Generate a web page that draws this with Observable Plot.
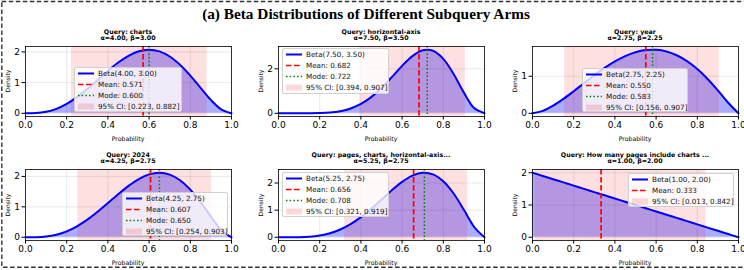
<!DOCTYPE html>
<html>
<head>
<meta charset="utf-8">
<script src="https://cdn.jsdelivr.net/npm/d3@7"></script>
<script src="https://cdn.jsdelivr.net/npm/@observablehq/plot@0.6"></script>
<style>
  html, body { margin: 0; padding: 0; background: white; }
  #fig { position: relative; width: 744px; height: 270px; overflow: hidden; background: white; font-family: "DejaVu Sans", sans-serif; }
  .abs { position: absolute; }
  .ptitle { position: absolute; font-weight: bold; font-size: 6.3px; white-space: nowrap; transform: translateX(-50%); line-height: 6px; color: #000; text-align: center; }
  .xlab { position: absolute; font-size: 6.2px; transform: translateX(-50%); white-space: nowrap; line-height: 7px; }
  .ylab { position: absolute; font-size: 6px; transform: translate(-50%, -50%) rotate(-90deg); white-space: nowrap; line-height: 7px; }
  .legend { position: absolute; background: rgba(255,255,255,0.8); border: 0.8px solid #d0d0d0; border-radius: 2px; box-sizing: border-box; padding: 0.5px 3px; }
  .lrow { display: flex; align-items: center; height: 10.9px; font-size: 7.2px; white-space: nowrap; color: #111; }
  .lrow svg { flex: none; margin-right: 4px; }
</style>
</head>
<body>
<div id="fig"></div>
<script>
// ---------- data ----------
const titles = ["Query: charts", "Query: horizontal-axis", "Query: year", "Query: 2024", "Query: pages, charts, horizontal-axis...", "Query: How many pages include charts ..."];
const alphas = [4.00, 7.50, 2.75, 4.25, 5.25, 1.00];
const betas  = [3.00, 3.50, 2.25, 2.75, 2.75, 2.00];
const means  = [0.571, 0.682, 0.550, 0.607, 0.656, 0.333];
const modes  = [0.600, 0.722, 0.583, 0.650, 0.708, null];
const ciLow  = [0.223, 0.394, 0.156, 0.254, 0.321, 0.013];
const ciHigh = [0.882, 0.907, 0.907, 0.903, 0.919, 0.842];

const xGrid = [0, 0.05, 0.1, 0.15, 0.2, 0.25, 0.3, 0.35, 0.4, 0.45, 0.5, 0.55, 0.6, 0.65, 0.7, 0.75, 0.8, 0.85, 0.9, 0.95, 1];
const densCharts   = [0, 0.0068, 0.0486, 0.1463, 0.3072, 0.5273, 0.7938, 1.0869, 1.3824, 1.6539, 1.875, 2.0215, 2.0736, 2.0185, 1.8522, 1.582, 1.2288, 0.8291, 0.4374, 0.1286, 0];
const densHorizAxis = [0, 0, 0.0001, 0.0017, 0.0096, 0.0347, 0.0955, 0.2161, 0.4214, 0.7294, 1.1396, 1.627, 2.1336, 2.5713, 2.8315, 2.8107, 2.4474, 1.7681, 0.9303, 0.2337, 0];
const densYear     = [0, 0.0653, 0.2053, 0.3886, 0.596, 0.8125, 1.0254, 1.2242, 1.3991, 1.5422, 1.6463, 1.705, 1.7136, 1.6683, 1.5665, 1.4072, 1.192, 0.9248, 0.6159, 0.2847, 0];
const dens2024     = [0, 0.0029, 0.0253, 0.0854, 0.1956, 0.3608, 0.5784, 0.8384, 1.1249, 1.4165, 1.6886, 1.9139, 2.0664, 2.1222, 2.0613, 1.875, 1.565, 1.1519, 0.6823, 0.2418, 0];
const densPages    = [0, 0.0002, 0.0042, 0.0211, 0.0645, 0.1486, 0.2858, 0.4834, 0.741, 1.0499, 1.3906, 1.7338, 2.0421, 2.2721, 2.377, 2.3163, 2.0622, 1.6128, 1.0114, 0.3783, 0];
const densHowMany  = [2, 1.9, 1.8, 1.7, 1.6, 1.5, 1.4, 1.3, 1.2, 1.1, 1.0, 0.9, 0.8, 0.7, 0.6, 0.5, 0.4, 0.3, 0.2, 0.1, 0];
const densities = [densCharts, densHorizAxis, densYear, dens2024, densPages, densHowMany];

const xTicks = [0, 0.2, 0.4, 0.6, 0.8, 1.0];
const yTicksList = [[0, 1, 2], [0, 2], [0, 1], [0, 1, 2], [0, 1, 2], [0, 1, 2]];
const yDomains = [[-0.104, 2.177], [-0.143, 3.004], [-0.086, 1.802], [-0.106, 2.228], [-0.119, 2.498], [-0.1, 2.1]];

// ---------- layout ----------
const colLeft = [25, 278, 532];
const plotW = 206;
const rowTop = [46, 169];
const rowH = [70, 71];
const legendPos = [
  {left: 74, top: 67, w: 108, h: 45},
  {left: 282, top: 48, w: 107, h: 46},
  {left: 582, top: 68, w: 106, h: 44},
  {left: 122, top: 192, w: 106, h: 44},
  {left: 282, top: 172, w: 107, h: 45},
  {left: 628, top: 173, w: 106, h: 34}
];

const fig = document.getElementById("fig");

// dashed outer border
const ns = "http://www.w3.org/2000/svg";
const bsvg = document.createElementNS(ns, "svg");
bsvg.setAttribute("width", 744); bsvg.setAttribute("height", 270);
bsvg.style.position = "absolute"; bsvg.style.left = "0"; bsvg.style.top = "0";
bsvg.innerHTML = `<rect x="1.8" y="1.5" width="780" height="265.8" fill="none" stroke="#333" stroke-width="1.4" stroke-dasharray="4.5,2.5"/>`;
fig.appendChild(bsvg);

// main title
const t = document.createElement("div");
t.className = "abs";
t.textContent = "(a) Beta Distributions of Different Subquery Arms";
Object.assign(t.style, {left: "366px", top: "5px", transform: "translateX(-50%)", fontFamily: "'Liberation Serif', serif", fontWeight: "bold", fontSize: "15.3px", whiteSpace: "nowrap", lineHeight: "17px"});
fig.appendChild(t);

const ML = 24, MR = 4, MT = 2, MB = 20;
const fmt1 = d3.format(".1f");

for (let i = 0; i < 6; i++) {
  const col = i % 3, row = Math.floor(i / 3);
  const px = colLeft[col], py = rowTop[row], ph = rowH[row];
  const data = xGrid.map((x, j) => ({x, y: densities[i][j]}));
  const yd = yDomains[i];
  const marks = [
    Plot.gridX(xTicks, {stroke: "#b0b0b0", strokeOpacity: 0.35, strokeWidth: 0.8}),
    Plot.gridY(yTicksList[i], {stroke: "#b0b0b0", strokeOpacity: 0.35, strokeWidth: 0.8}),
    Plot.areaY(data, {x: "x", y: "y", fill: "blue", fillOpacity: 0.33, curve: "catmull-rom"}),
    Plot.rect([{lo: ciLow[i], hi: ciHigh[i], b: yd[0], t: yd[1]}], {x1: "lo", x2: "hi", y1: "b", y2: "t", fill: "red", fillOpacity: 0.12}),
    Plot.line(data, {x: "x", y: "y", stroke: "blue", strokeWidth: 2, curve: "catmull-rom"}),
    Plot.ruleX([means[i]], {stroke: "red", strokeWidth: 1.7, strokeDasharray: "5.5,2.5"})
  ];
  if (modes[i] != null) marks.push(Plot.ruleX([modes[i]], {stroke: "green", strokeWidth: 1.5, strokeDasharray: "1.5,2.2"}));
  marks.push(
    Plot.frame({stroke: "black", strokeWidth: 0.8}),
    Plot.axisX({ticks: xTicks, tickFormat: fmt1, tickSize: 3.5, tickPadding: 2, fontSize: 9, label: null}),
    Plot.axisY({ticks: yTicksList[i], tickFormat: d3.format("d"), tickSize: 3.5, tickPadding: 2, fontSize: 9, label: null})
  );
  const chart = Plot.plot({
    width: plotW + ML + MR, height: ph + MT + MB,
    marginLeft: ML, marginRight: MR, marginTop: MT, marginBottom: MB,
    style: {background: "transparent", fontFamily: "DejaVu Sans", fontSize: "9px", color: "black", overflow: "visible"},
    x: {domain: [0, 1]},
    y: {domain: yd},
    marks
  });
  chart.style.position = "absolute";
  chart.style.left = (px - ML) + "px";
  chart.style.top = (py - MT) + "px";
  fig.appendChild(chart);

  // panel title (two lines in one block)
  const cx = px + plotW / 2;
  const pt = document.createElement("div");
  pt.className = "ptitle";
  pt.innerHTML = `${titles[i]}<br>α=${alphas[i].toFixed(2)}, β=${betas[i].toFixed(2)}`;
  pt.style.left = cx + "px"; pt.style.top = (py - 17) + "px";
  fig.appendChild(pt);

  // axis labels
  const xl = document.createElement("div");
  xl.className = "xlab"; xl.textContent = "Probability";
  xl.style.left = cx + "px"; xl.style.top = (py + ph + 18.5) + "px";
  fig.appendChild(xl);
  const yl = document.createElement("div");
  yl.className = "ylab"; yl.textContent = "Density";
  yl.style.left = (px - 18) + "px"; yl.style.top = (py + ph / 2) + "px";
  fig.appendChild(yl);

  // legend
  const lp = legendPos[i];
  const lg = document.createElement("div");
  lg.className = "legend";
  Object.assign(lg.style, {left: lp.left + "px", top: lp.top + "px", width: lp.w + "px", height: lp.h + "px"});
  const rows = [];
  rows.push([`<svg width="16" height="7"><line x1="0" y1="3.5" x2="16" y2="3.5" stroke="blue" stroke-width="2"/></svg>`, `Beta(${alphas[i].toFixed(2)}, ${betas[i].toFixed(2)})`]);
  rows.push([`<svg width="16" height="7"><line x1="0" y1="3.5" x2="16" y2="3.5" stroke="red" stroke-width="1.7" stroke-dasharray="5.5,2.5"/></svg>`, `Mean: ${means[i].toFixed(3)}`]);
  if (modes[i] != null) rows.push([`<svg width="16" height="7"><line x1="0" y1="3.5" x2="16" y2="3.5" stroke="green" stroke-width="1.5" stroke-dasharray="1.5,2.2"/></svg>`, `Mode: ${modes[i].toFixed(3)}`]);
  rows.push([`<svg width="16" height="7"><rect x="0" y="0.5" width="16" height="6" fill="red" fill-opacity="0.15"/></svg>`, `95% CI: [${ciLow[i].toFixed(3)}, ${ciHigh[i].toFixed(3)}]`]);
  lg.innerHTML = rows.map(r => `<div class="lrow">${r[0]}<span>${r[1]}</span></div>`).join("");
  fig.appendChild(lg);
}
</script>
</body>
</html>
